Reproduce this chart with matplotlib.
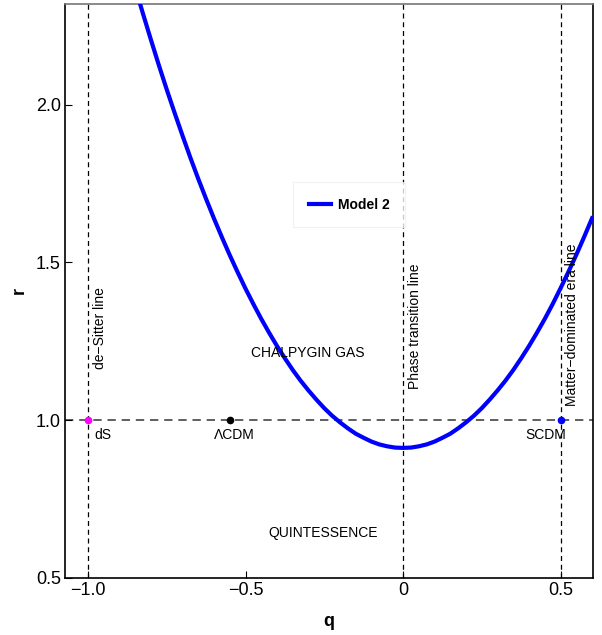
import matplotlib
matplotlib.use("Agg")
from matplotlib import pyplot as plt

plt.rcParams['font.family'] = ['Liberation Sans', 'DejaVu Sans']

# r(q)
q_vals = [-0.850, -0.825, -0.800, -0.775, -0.750, -0.725, -0.700, -0.675, -0.650, -0.625,
          -0.600, -0.575, -0.550, -0.525, -0.500, -0.475, -0.450, -0.425, -0.400, -0.375,
          -0.350, -0.325, -0.300, -0.275, -0.250, -0.225, -0.200, -0.175, -0.150, -0.125,
          -0.100, -0.075, -0.050, -0.025, 0.000, 0.025, 0.050, 0.075, 0.100, 0.125,
          0.150, 0.175, 0.200, 0.225, 0.250, 0.275, 0.300, 0.325, 0.350, 0.375,
          0.400, 0.425, 0.450, 0.475, 0.500, 0.525, 0.550, 0.575, 0.600]
r_vals = [2.371, 2.287, 2.205, 2.125, 2.048, 1.974, 1.902, 1.832, 1.765, 1.701,
          1.639, 1.580, 1.523, 1.469, 1.417, 1.368, 1.321, 1.277, 1.235, 1.196,
          1.159, 1.125, 1.094, 1.065, 1.038, 1.014, 0.993, 0.974, 0.957, 0.944,
          0.932, 0.923, 0.917, 0.913, 0.912, 0.913, 0.917, 0.923, 0.932, 0.944,
          0.957, 0.974, 0.993, 1.014, 1.038, 1.065, 1.094, 1.125, 1.159, 1.196,
          1.235, 1.277, 1.321, 1.368, 1.418, 1.470, 1.524, 1.581, 1.640]

# fixed points
pt_names = ["dS", "\u039bCDM", "SCDM"]
pt_q = [-1.0, -0.55, 0.5]
pt_r = [1.0, 1.0, 1.0]
pt_colors = ["#ff00ff", "black", "#0000ff"]

x_ticks = [-1.0, -0.5, 0.0, 0.5]
x_ticklabels = ["\u22121.0", "\u22120.5", "0", "0.5"]
y_ticks = [0.5, 1.0, 1.5, 2.0]
y_ticklabels = ["0.5", "1.0", "1.5", "2.0"]

fig = plt.figure(figsize=(6.02, 6.35), dpi=100)
ax = fig.add_axes([0.108, 0.09, 0.877, 0.904])

# reference lines
for xv in [-1.0, 0.0, 0.5]:
    ax.axvline(xv, color="black", lw=0.9, ls=(0, (4, 3)), zorder=1)
ax.axhline(1.0, color="#444444", lw=1.2, ls=(0, (5, 3.5)), zorder=1)

ax.plot(q_vals, r_vals, color="#0000ff", lw=3, label="Model 2", zorder=3,
        solid_joinstyle="round")

for q, r, c in zip(pt_q, pt_r, pt_colors):
    ax.plot(q, r, "o", color=c, ms=4.5, zorder=4)

# labels of the points
fs = 10
ax.text(-0.952, 0.952, pt_names[0], ha="center", va="center", fontsize=fs)
ax.text(-0.537, 0.952, pt_names[1], ha="center", va="center", fontsize=fs)
ax.text(0.454, 0.952, pt_names[2], ha="center", va="center", fontsize=fs)

ax.text(-0.302, 1.213, "CHALPYGIN GAS", ha="center", va="center", fontsize=fs)
ax.text(-0.254, 0.643, "QUINTESSENCE", ha="center", va="center", fontsize=fs)

ax.text(-0.962, 1.162, "de\u2212Sitter line", rotation=90, ha="center", va="bottom", fontsize=fs)
ax.text(0.037, 1.10, "Phase transition line", rotation=90, ha="center", va="bottom", fontsize=fs)
ax.text(0.535, 1.045, "Matter\u2212dominated era line", rotation=90, ha="center", va="bottom", fontsize=fs)

ax.set_xlim(-1.073, 0.603)
ax.set_ylim(0.5, 2.32)
ax.set_xticks(x_ticks)
ax.set_xticklabels(x_ticklabels)
ax.set_yticks(y_ticks)
ax.set_yticklabels(y_ticklabels)
ax.tick_params(direction="in", length=5, width=0.8, labelsize=13, pad=3)

ax.set_xlabel("q", fontsize=13, fontweight="bold", labelpad=10)
ax.set_ylabel("r", fontsize=13, fontweight="bold", labelpad=6)

for side in ["left", "bottom", "right"]:
    ax.spines[side].set_color("black")
    ax.spines[side].set_linewidth(1.2)
ax.spines["top"].set_color("#777777")
ax.spines["top"].set_linewidth(1.2)

leg = ax.legend(loc="center", bbox_to_anchor=(0.538, 0.65), frameon=True,
                fancybox=False, handlelength=1.6, handletextpad=0.5,
                borderpad=1.1, prop={"weight": "bold", "size": 10})
leg.get_frame().set_edgecolor("#eeeeee")
leg.get_frame().set_linewidth(0.8)

plt.savefig("out.png", dpi=100)
